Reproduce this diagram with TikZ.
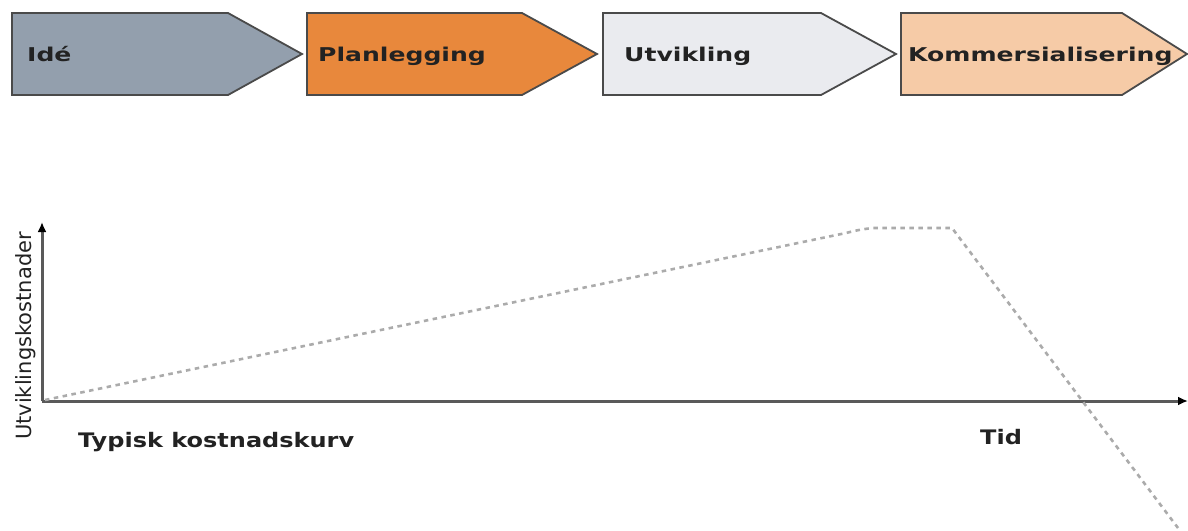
\documentclass[tikz,border=0pt]{standalone}
\usepackage{fontspec}
\setmainfont{DejaVu Sans}
\newfontfamily\phasefont[FakeStretch=1.32]{DejaVu Sans Bold}
\newfontfamily\labelfont[FakeStretch=1.2]{DejaVu Sans Bold}
\newfontfamily\axisfont{DejaVu Sans}
\usetikzlibrary{arrows.meta}

\definecolor{ideafill}{HTML}{939FAD}
\definecolor{planfill}{HTML}{E8883C}
\definecolor{devfill}{HTML}{EAEBEF}
\definecolor{commfill}{HTML}{F6CBA7}
\definecolor{phaseline}{HTML}{4A4A4A}
\definecolor{axisline}{HTML}{5A5A5A}
\definecolor{curveline}{HTML}{ABABAB}
\definecolor{inktext}{HTML}{222222}

\begin{document}
\begin{tikzpicture}[x=1pt, y=-1pt,
  phasebox/.style={draw=phaseline, line width=1.8pt, line join=miter},
  phasetext/.style={anchor=base west, inner sep=0pt, text=inktext,
    font=\phasefont\fontsize{19}{22}\selectfont},
  chartlabel/.style={anchor=base west, inner sep=0pt, text=inktext,
    font=\labelfont\fontsize{20}{24}\selectfont},
  axis/.style={draw=axisline, line width=3pt,
    -{Latex[length=10pt, width=9pt, black]}},
  costcurve/.style={draw=curveline, line width=2.6pt,
    dash pattern=on 4.5pt off 4.5pt}]
  \useasboundingbox (0,0) rectangle (1188,530);

  % Phase arrows
  \draw[phasebox, fill=ideafill] (12,13) -- (228,13) -- (302,54) -- (228,95) -- (12,95) -- cycle;
  \draw[phasebox, fill=planfill] (307,13) -- (522,13) -- (597,54) -- (522,95) -- (307,95) -- cycle;
  \draw[phasebox, fill=devfill] (603,13) -- (821,13) -- (896,54) -- (821,95) -- (603,95) -- cycle;
  \draw[phasebox, fill=commfill] (901,13) -- (1122,13) -- (1187,54) -- (1122,95) -- (901,95) -- cycle;

  \node[phasetext] (idea) at (27,61) {Idé};
  \node[phasetext] (plan) at (318,61) {Planlegging};
  \node[phasetext] (dev) at (624,61) {Utvikling};
  \node[phasetext] (comm) at (908,61) {Kommersialisering};

  % Axes
  \coordinate (origin) at (42,401);
  \coordinate (ytop) at (42,222);
  \coordinate (xend) at (1188,401);
  \draw[axis] (origin) -- (ytop);
  \draw[axis] (origin) -- (xend);

  % Cost curve
  \coordinate (c0) at (45,400);
  \coordinate (c1) at (846,233);
  \coordinate (c2) at (872,228);
  \coordinate (c3) at (952,228);
  \coordinate (c4) at (1178,528);
  \draw[costcurve] (c0) -- (c1) .. controls (858,230) .. (c2) -- (c3) -- (c4);

  % Axis labels
  \node[rotate=90, anchor=base, inner sep=0pt, text=inktext,
    font=\axisfont\fontsize{21}{24}\selectfont] (ylabel) at (31,336) {Utviklingskostnader};
  \node[chartlabel] (caption) at (78,447) {Typisk kostnadskurv};
  \node[chartlabel] (xlabel) at (980,444) {Tid};
\end{tikzpicture}
\end{document}
